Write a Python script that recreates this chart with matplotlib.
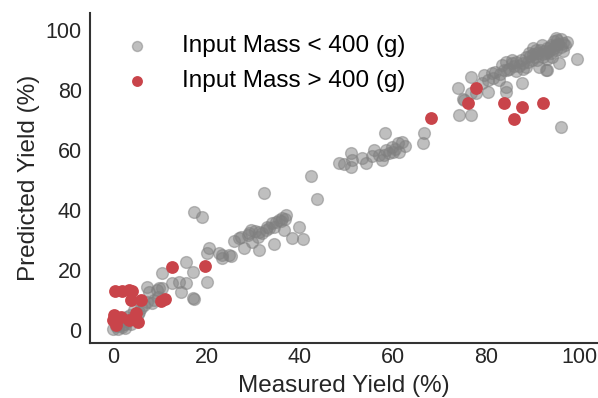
import numpy as np
import matplotlib
matplotlib.use("Agg")
import matplotlib.pyplot as plt

plt.rcParams['font.family'] = ['Liberation Sans', 'DejaVu Sans']

# measured vs predicted yield, input mass < 400 g
gray_x = [0, 0.5, 1, 1.2, 1.8, 2, 2.5, 2.8, 3.2, 3.6, 4, 4.5, 5.2, 5.6, 6, 6.5, 7.3, 8.2, 8.8, 9.5,
          1.9, 2.6, 3.8, 7.7, 9.4, 7.3, 9.9, 10.5, 10.5, 12.7, 14.2, 15.7, 14.6, 17, 17.4, 15.7, 17, 20,
          17.4, 19.1, 20.6, 20, 22.7, 23.4, 24.9, 23.4, 25.3, 27, 27.5, 28.8, 29.2, 29.6, 28.1, 29.8,
          31.3, 31.3, 32, 32.8, 33.5, 34.1, 35, 35.6, 36.3, 37.1, 34.5, 36.7, 38.4, 40.6, 39.9, 32.4,
          42.5, 43.6, 31, 33, 34.5, 36, 36.8, 30.3, 26,
          48.5, 49.4, 50.9, 51.1, 51.3, 53.4, 54.3, 56, 57.1, 57.7, 58.6, 59.2, 59.9, 61, 61.4, 62,
          58.2, 66.7, 66.5, 60.5, 58, 55.5, 62.5, 60,
          74.2, 76.8, 74, 76.8, 75.3, 76.8, 75.1, 77.9, 79.6, 79.2, 80.3, 81.3, 82.8, 84.3, 84.3, 83.5,
          84.5, 85.6, 87.8, 88.6, 89.3, 90.8, 91.4, 92.9, 93.6, 95.1, 95.7, 96.4, 97.4, 99.6, 96.1,
          92.1, 89.9, 92.9, 94.2,
          85, 86, 86.5, 87, 87.5, 88, 88.5, 89, 89.5, 90, 90.5, 91, 91.5, 92, 92.5, 93, 93.5, 94, 94.5,
          95, 95.5, 96, 94, 91, 88, 86.5, 83, 82, 81.5, 80.5, 96.5, 97, 95, 93, 95, 93.1, 84.3, 83.9,
          85.6, 90, 92, 94.5, 96]
gray_y = [0.5, 1.5, 0.3, 2, 1, 3, 2, 4.3, 3, 5, 4, 6.7, 5.5, 6, 7.5, 8.5, 9.5, 9, 10, 11,
          1.7, 0.8, 2, 12.7, 13.3, 14.3, 14, 14, 19, 15.7, 16, 15.7, 12.7, 10.7, 10.3, 22.7, 19.3, 16,
          39.3, 37.7, 27.3, 25.7, 25.7, 24, 25, 25, 24.7, 30.7, 31, 31.7, 32.3, 33.3, 27.3, 29.3,
          26.7, 32.7, 32.3, 33.3, 34, 35.7, 36, 36.7, 37.3, 38.3, 28.7, 33.3, 30.7, 30.3, 34.3, 45.7,
          51.3, 43.7, 31, 34.5, 34.5, 36.5, 37, 33, 29.7,
          55.7, 55.3, 54.3, 59, 56.7, 57.3, 55.7, 60, 58.3, 56.7, 60, 59, 61, 62.3, 59.3, 62.7,
          65.7, 65.7, 62.3, 60.5, 58.5, 58, 61.5, 59.5,
          71.7, 71.7, 80.7, 84.3, 76.7, 79, 77, 79, 85, 82.3, 79.3, 85.7, 83.3, 81, 79.3, 88.3,
          86.7, 89, 82.3, 87.7, 92.3, 93.3, 87.7, 86.7, 94.3, 96.7, 89, 95.7, 96, 90.3, 67.7,
          91, 90, 92.3, 91,
          87, 88, 89.5, 88, 90, 89, 91, 89.5, 91.5, 92, 91, 92.5, 93.5, 92, 93, 94, 93, 95, 94,
          95, 95.5, 94.5, 92.5, 90, 87, 86.5, 85.5, 86, 84, 83.5, 93, 95, 93.5, 90.5, 97.3, 86.7, 89.3, 86.7,
          90, 94, 95, 96.5, 97]

# input mass > 400 g
red_x = [0.3, 1.8, 3.4, 4, 3.9, 6, 10.3, 11, 12.7, 19.7, 0.2, 0, 1.7, 0.6, 4.9, 5.2, 3.4,
         68.2, 77.9, 76.2, 83.9, 87.8, 85.9, 92.1]
red_y = [13, 13, 13.3, 13, 10, 10, 9.7, 10.3, 21, 21.3, 5, 3.3, 4.3, 1.7, 5.7, 2.7, 3.3,
         70.7, 80.7, 75.7, 75.7, 74.3, 70.3, 75.7]

fig = plt.figure(figsize=(5.98, 3.98), dpi=100)
ax = fig.add_axes([0.1505, 0.138, 0.8495, 0.829])

ax.scatter(gray_x, gray_y, s=72, color='gray', alpha=0.5, linewidths=1,
           label='Input Mass < 400 (g)')
ax.scatter(red_x, red_y, s=85, color='#c9444a', linewidths=0,
           label='Input Mass > 400 (g)')

ax.set_xlim(-5, 104)
ax.set_ylim(-4.3, 105.7)
ax.set_xticks([0, 20, 40, 60, 80, 100])
ax.set_yticks([0, 20, 40, 60, 80, 100])
ax.tick_params(length=0, labelsize=15.5, colors='#262626')
ax.tick_params(axis='x', pad=3)
ax.tick_params(axis='y', pad=6)
for side in ['top', 'right']:
    ax.spines[side].set_visible(False)
for side in ['left', 'bottom']:
    ax.spines[side].set_color('#333333')
    ax.spines[side].set_linewidth(1.5)

ax.set_xlabel('Measured Yield (%)', fontsize=17.5, color='#262626', labelpad=5)
ax.set_ylabel('Predicted Yield (%)', fontsize=17.5, color='#262626', labelpad=4)

ax.legend(loc='upper left', bbox_to_anchor=(0.002, 1.0), frameon=False, fontsize=17.5,
          handletextpad=0.85, labelspacing=0.55, markerscale=0.85)

fig.savefig('out.png', dpi=100)
